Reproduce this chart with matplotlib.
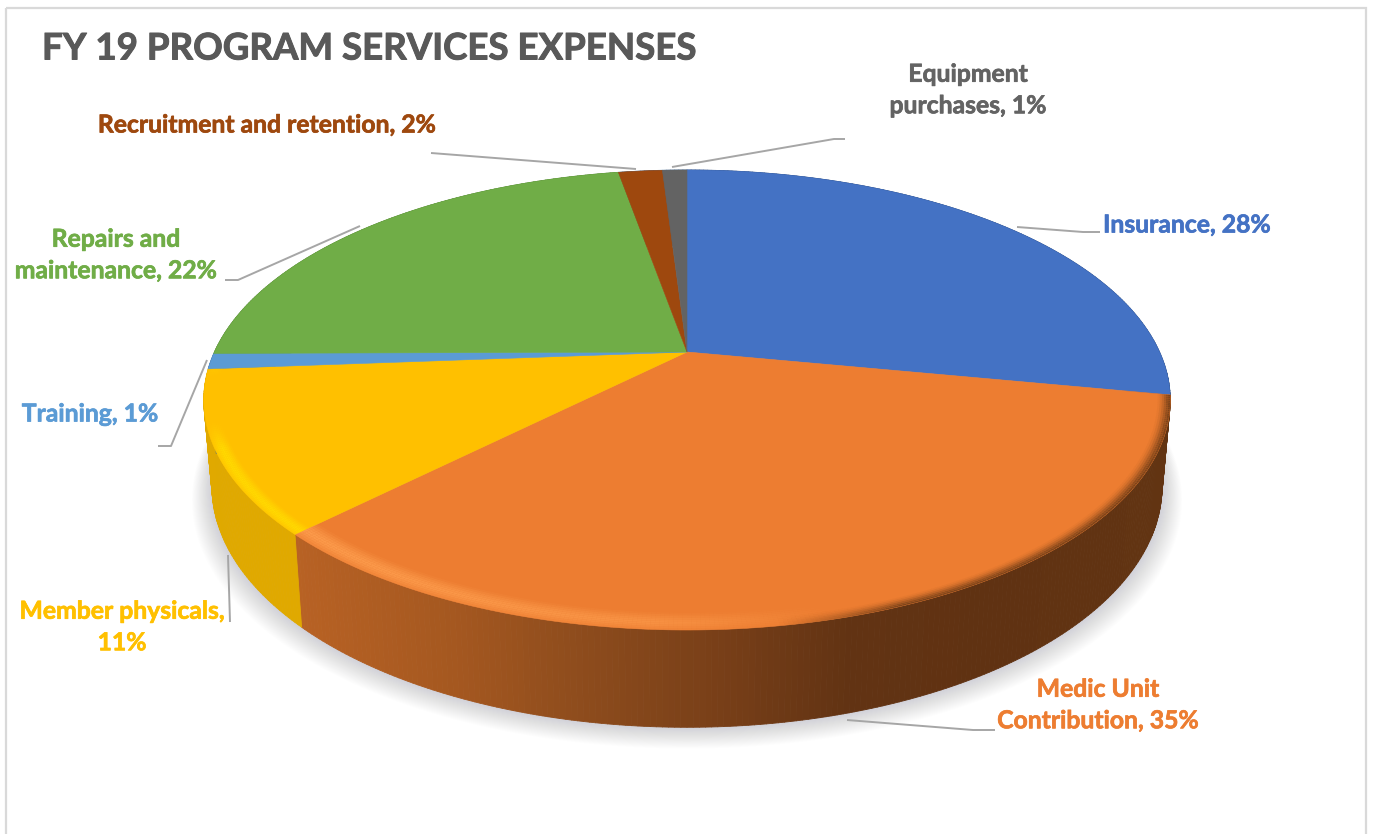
import numpy as np
import matplotlib
matplotlib.use('Agg')
import matplotlib.pyplot as plt
import matplotlib.patheffects as pe
from matplotlib.collections import PolyCollection
from matplotlib.patches import Polygon, Rectangle

plt.rcParams['font.family'] = ['Lato', 'DejaVu Sans']

categories = ['Insurance', 'Medic Unit Contribution', 'Member physicals', 'Training',
              'Repairs and maintenance', 'Recruitment and retention', 'Equipment purchases']
shares = [28, 34.5, 11.3, 1.1, 22.3, 1.8, 1]
colours = ['#4472C4', '#ED7D31', '#FFC000', '#5B9BD5', '#70AD47', '#9E480E', '#636363']
rim_colours = ['#4472C4', '#FFA050', '#FFDD00', '#5B9BD5', '#70AD47', '#9E480E', '#636363']

# text, x, y of each label, colour comes from the slice
label_text = ['Insurance, 28%', 'Medic Unit\nContribution, 35%', 'Member physicals,\n11%', 'Training, 1%',
              'Repairs and\nmaintenance, 22%', 'Recruitment and retention, 2%', 'Equipment\npurchases, 1%']
label_x = [1187, 1098, 122, 90, 116, 267, 968]
label_y = [225, 705, 627, 414, 255, 125, 90]

leaders = [
    [(1017, 227), (1083, 232), (1100, 232)],
    [(847, 720), (973, 730), (995, 730)],
    [(228, 555), (230, 622)],
    [(207, 360), (171, 446), (158, 446)],
    [(360, 226), (238, 280), (225, 280)],
    [(636, 169), (431, 153)],
    [(672, 167), (834, 139), (845, 139)],
]

# perspective of the disc
K = 0.2087
CX = 687


def project(theta, r=1.0, top=True):
    # theta clockwise from 12 o'clock, radians
    u = r*np.sin(theta)
    v = r*np.cos(theta)
    w = 1 + K*v
    if top:
        return CX + 472.6*u/w, 352 - 220*v/w
    return CX + 464.6*u/w, 436 - 230.5*v/w


def wall_colour(i, x):
    # wall shading runs from left to right
    if i == 1:
        xs = [295, 450, 600, 720, 850, 1000, 1170]
        rs = [0xB8, 0xA5, 0x8A, 0x78, 0x62, 0x60, 0x62]
        gs = [0x62, 0x58, 0x4A, 0x3F, 0x33, 0x32, 0x34]
        bs = [0x24, 0x20, 0x1C, 0x18, 0x13, 0x12, 0x12]
        return (np.interp(x, xs, rs)/255, np.interp(x, xs, gs)/255, np.interp(x, xs, bs)/255)
    if i == 2:
        return '#E0A900'
    if i == 0:
        return '#2B4878'
    return '#4F7F31' if i == 4 else '#3F6A9A'


def edge_band(ang, rad, rgb, profile, fade_xs, fade_vals):
    # thin soft band just inside the rim of the top face
    polys = []
    cols = []
    for a, b in zip(ang[:-1], ang[1:]):
        xm, _ = project(0.5*(a + b))
        fade = np.interp(xm, fade_xs, fade_vals)
        for j in range(len(rad) - 1):
            xa, ya = project(a, rad[j])
            xb, yb = project(b, rad[j])
            xc, yc = project(b, rad[j+1])
            xd, yd = project(a, rad[j+1])
            polys.append([(xa, ya), (xb, yb), (xc, yc), (xd, yd)])
            cols.append(rgb + (fade*profile[j],))
    ax.add_collection(PolyCollection(polys, facecolors=cols, edgecolors='none', zorder=5))


fig = plt.figure(figsize=(13.73, 8.34), dpi=100)
ax = fig.add_axes([0, 0, 1, 1])
ax.set_xlim(0, 1373)
ax.set_ylim(834, 0)
ax.axis('off')

# chart frame
ax.add_patch(Rectangle((6, 8), 1360, 900, fill=False, ec='#D9D9D9', lw=1.6, zorder=1))

edges = np.cumsum([0] + shares)/float(sum(shares))*2*np.pi

# soft shadow under the disc
th = np.linspace(0, 2*np.pi, 361)
bx, by = project(th, top=False)
for t in np.linspace(1, 0, 24):
    sx = CX + (bx - CX)*(1 + 0.042*t)
    sy = 486 + (by - 486)*(1 + 0.03*t) + 14*t
    ax.add_patch(Polygon(np.column_stack([sx, sy]), fc='#8A8FA2', ec='none', alpha=0.015, zorder=2))

# side wall, the top face covers whatever is behind it
polys = []
cols = []
for i in range(len(shares)):
    n = max(3, int(shares[i]*6))
    ang = np.linspace(edges[i], edges[i+1], n+1)
    for a, b in zip(ang[:-1], ang[1:]):
        x0, y0 = project(a)
        x1, y1 = project(b)
        x2, y2 = project(b, top=False)
        x3, y3 = project(a, top=False)
        polys.append([(x0, y0), (x1, y1), (x2, y2), (x3, y3)])
        cols.append(wall_colour(i, 0.5*(x0 + x1)))
ax.add_collection(PolyCollection(polys, facecolors=cols, edgecolors=cols, linewidths=0.6, zorder=3))

# top of the pie
for i in range(len(shares)):
    ang = np.linspace(edges[i], edges[i+1], max(4, int(shares[i]*4)))
    x, y = project(ang)
    pts = np.vstack([[CX, 352], np.column_stack([x, y])])
    ax.add_patch(Polygon(pts, fc=colours[i], ec=colours[i], lw=0.4, zorder=4))

# bright bevel along the front edge, dark soft edge on the right
profile = [0.0, 0.15, 0.35, 0.55, 0.75, 0.9, 1.0, 0.95, 0.8, 0.6, 0.4]
ang = np.linspace(edges[1], edges[2], int(shares[1]*8) + 1)
edge_band(ang, np.linspace(0.945, 1.0, 12), matplotlib.colors.to_rgb(rim_colours[1]), profile,
          [208, 225, 300, 650, 840], [0.0, 0.9, 0.85, 0.6, 0.0])
ang = np.linspace(edges[2], edges[3], int(shares[2]*8) + 1)
edge_band(ang, np.linspace(0.965, 1.0, 12), matplotlib.colors.to_rgb(rim_colours[2]), profile,
          [206, 215, 300], [0.0, 0.9, 0.9])

ang = np.linspace(edges[1], edges[2], int(shares[1]*8) + 1)
edge_band(ang, np.linspace(0.975, 1.0, 7), (0.37, 0.2, 0.07), [0.05, 0.15, 0.3, 0.5, 0.7, 0.85],
          [780, 900, 1170], [0.0, 0.9, 0.9])

# leader lines
for pts in leaders:
    pts = np.array(pts)
    ax.plot(pts[:, 0], pts[:, 1], color='#A6A6A6', lw=1.4, zorder=6, solid_capstyle='butt')

# labels
for i in range(len(label_text)):
    ax.text(label_x[i], label_y[i], label_text[i], color=colours[i], fontsize=17.8, fontweight='bold',
            ha='center', va='center', linespacing=1.45, zorder=7,
            path_effects=[pe.withStroke(linewidth=0.5, foreground=colours[i])])

ax.text(42, 49, 'FY 19 PROGRAM SERVICES EXPENSES', color='#595959', fontsize=26.4, fontweight='bold',
        ha='left', va='center', zorder=7,
        path_effects=[pe.withStroke(linewidth=0.7, foreground='#595959')])

fig.savefig('out.png', dpi=100)
